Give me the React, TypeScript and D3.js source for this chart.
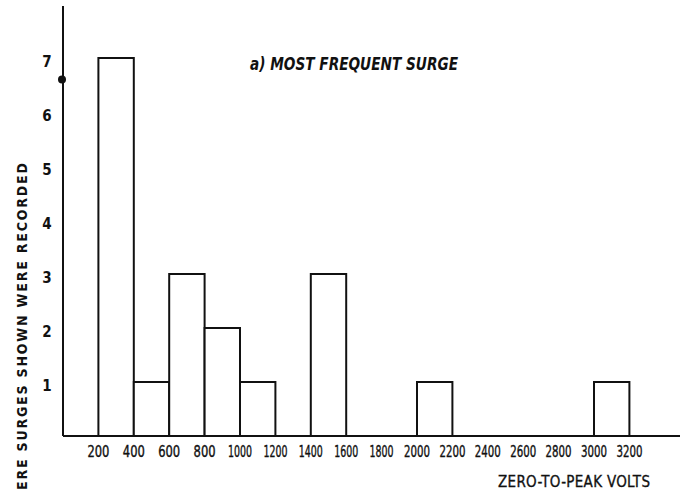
import React, { useEffect, useRef } from 'react';
import * as d3 from 'd3';

// histogram bins (volts) and counts of locations
const binStarts = [200, 400, 600, 800, 1000, 1400, 2000, 3000];
const binEnds = [400, 600, 800, 1000, 1200, 1600, 2200, 3200];
const counts = [7, 1, 3, 2, 1, 3, 1, 1];

const xTickValues = [200, 400, 600, 800, 1000, 1200, 1400, 1600, 1800, 2000, 2200, 2400, 2600, 2800, 3000, 3200];
const yTickValues = [1, 2, 3, 4, 5, 6, 7];

const title = 'a) MOST FREQUENT SURGE';
const xTitle = 'ZERO-TO-PEAK VOLTS';
const yTitle = 'ERE SURGES SHOWN WERE RECORDED';

const narrow = "'Liberation Sans Narrow', 'DejaVu Sans Condensed', 'Liberation Sans', sans-serif";

const App = () => {
    const ref = useRef<SVGSVGElement>(null);

    useEffect(() => {
        const svg = d3.select(ref.current);
        svg.selectAll('*').remove();

        const width = 680;
        const height = 491;

        const x = d3.scaleLinear().domain([0, 3200]).range([63, 629.4]);
        const y = d3.scaleLinear().domain([0, 7]).range([436, 58]);

        svg.append('rect')
            .attr('width', width)
            .attr('height', height)
            .attr('fill', '#fff');

        // bars
        svg.selectAll('.bar')
            .data(counts)
            .enter()
            .append('rect')
            .attr('class', 'bar')
            .attr('x', (d, i) => x(binStarts[i]))
            .attr('width', (d, i) => x(binEnds[i]) - x(binStarts[i]))
            .attr('y', d => y(d))
            .attr('height', d => y(0) - y(d))
            .attr('fill', '#fff')
            .attr('stroke', '#111')
            .attr('stroke-width', 2);

        // axes lines
        svg.append('line')
            .attr('x1', x(0)).attr('x2', x(0))
            .attr('y1', 6).attr('y2', y(0))
            .attr('stroke', '#111').attr('stroke-width', 2);
        svg.append('line')
            .attr('x1', x(0)).attr('x2', width)
            .attr('y1', y(0)).attr('y2', y(0))
            .attr('stroke', '#111').attr('stroke-width', 2);

        // blot on the axis from the scan
        svg.append('circle')
            .attr('cx', x(0) - 1)
            .attr('cy', y(6.6))
            .attr('r', 4)
            .attr('fill', '#111');

        // x tick labels (narrow lettering)
        const labelWidth = (d: number) => {
            const s = String(d);
            if (s.length === 3) return 22;
            return s[0] === '1' ? 24 : 26;
        };
        svg.selectAll('.xlab')
            .data(xTickValues)
            .enter()
            .append('text')
            .attr('class', 'xlab')
            .attr('x', d => x(d) - labelWidth(d) / 2)
            .attr('y', 457)
            .attr('font-family', narrow)
            .attr('font-size', 16)
            .attr('textLength', d => labelWidth(d))
            .attr('lengthAdjust', 'spacingAndGlyphs')
            .attr('fill', '#111')
            .attr('stroke', '#111')
            .attr('stroke-width', 0.4)
            .text(d => d);

        // y tick labels
        svg.selectAll('.ylab')
            .data(yTickValues)
            .enter()
            .append('text')
            .attr('class', 'ylab')
            .attr('x', 47)
            .attr('y', d => y(d) + 9)
            .attr('text-anchor', 'middle')
            .attr('font-family', narrow)
            .attr('font-weight', 'bold')
            .attr('font-size', 15)
            .attr('fill', '#111')
            .text(d => d);

        svg.append('text')
            .attr('x', 250)
            .attr('y', 70)
            .attr('font-family', narrow)
            .attr('font-style', 'italic')
            .attr('font-weight', 'bold')
            .attr('font-size', 17)
            .attr('textLength', 208)
            .attr('lengthAdjust', 'spacingAndGlyphs')
            .attr('fill', '#111')
            .text(title);

        svg.append('text')
            .attr('x', 498)
            .attr('y', 487)
            .attr('font-family', narrow)
            .attr('font-size', 15)
            .attr('textLength', 152)
            .attr('lengthAdjust', 'spacing')
            .attr('fill', '#111')
            .attr('stroke', '#111')
            .attr('stroke-width', 0.3)
            .text(xTitle);

        svg.append('text')
            .attr('transform', 'translate(27,490) rotate(-90)')
            .attr('font-family', narrow)
            .attr('font-weight', 'bold')
            .attr('font-size', 14)
            .attr('textLength', 327)
            .attr('lengthAdjust', 'spacing')
            .attr('fill', '#111')
            .text(yTitle);
    }, []);

    return (
        <svg
            ref={ref}
            width="680"
            height="491"
            style={{ position: 'absolute', left: 0, top: 0, display: 'block' }}
        ></svg>
    );
};

export default App;
